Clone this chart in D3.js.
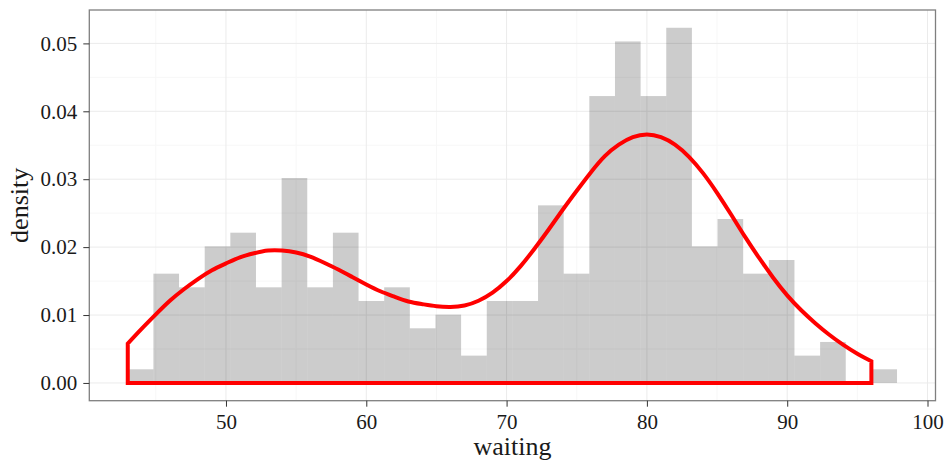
<!DOCTYPE html>
<html>
<head>
<meta charset="utf-8">
<script src="https://cdn.jsdelivr.net/npm/d3@7"></script>
<style>
  html, body { margin: 0; padding: 0; background: #fff; }
  svg text { font-family: "Liberation Serif", "Times New Roman", serif; fill: #1a1a1a; }
</style>
</head>
<body>
<script>
// histogram of waiting: 30 bins starting at 43, counts per bin
const binStart = 43
const binWidth = 1.8276
const binCounts = [1, 8, 7, 10, 11, 7, 15, 7, 11, 6, 7, 4, 5, 2, 6, 6, 13, 8, 21, 25, 21, 26, 10, 12, 8, 9, 2, 3, 0, 1]

// density curve
const densityX = [43, 44, 45, 46, 47, 48, 49, 50, 51, 52, 53, 54, 55, 56, 57, 58, 59, 60, 61, 62, 63, 64, 65, 66, 67, 68, 69, 70,
  71, 72, 73, 74, 75, 76, 77, 78, 79, 80, 81, 82, 83, 84, 85, 86, 87, 88, 89, 90, 91, 92, 93, 94, 95, 96]
const densityY = [0.0058, 0.0080, 0.0101, 0.0121, 0.0138, 0.0153, 0.0166, 0.0176, 0.0185, 0.0191, 0.0195, 0.0195, 0.0192, 0.0186,
  0.0177, 0.0167, 0.0156, 0.0145, 0.0135, 0.0127, 0.0120, 0.0116, 0.0113, 0.0112, 0.0114, 0.0121, 0.0133, 0.0150,
  0.0172, 0.0198, 0.0226, 0.0255, 0.0283, 0.0310, 0.0334, 0.0351, 0.0362, 0.0366, 0.0362, 0.0351, 0.0333, 0.0309,
  0.0280, 0.0248, 0.0215, 0.0184, 0.0155, 0.0129, 0.0107, 0.0088, 0.0071, 0.0056, 0.0043, 0.0032]

const xTicks = [50, 60, 70, 80, 90, 100]
const xMinor = [45, 55, 65, 75, 85, 95]
const yTicks = [0, 0.01, 0.02, 0.03, 0.04, 0.05]
const yMinor = [0.005, 0.015, 0.025, 0.035, 0.045]

const width = 945, height = 462
const dims = {left: 89.3, right: 935.5, top: 10, bottom: 400.7}

const total = d3.sum(binCounts)
const bins = binCounts.map((c, i) => ({
  x0: binStart + i * binWidth,
  x1: binStart + (i + 1) * binWidth,
  density: c / (total * binWidth)
}))

const svg = d3.select("body").append("svg")
  .attr("width", width)
  .attr("height", height)

// ggplot style 5% expansion
const xLo = d3.min(bins, d => d.x0), xHi = d3.max(bins, d => d.x1)
const xPad = (xHi - xLo) * 0.05
const x = d3.scaleLinear().domain([xLo - xPad, xHi + xPad]).range([dims.left, dims.right])
const yHi = d3.max(bins, d => d.density)
const y = d3.scaleLinear().domain([-yHi * 0.05, yHi * 1.05]).range([dims.bottom, dims.top])

const grid = svg.append("g")
grid.selectAll("line.xminor").data(xMinor).join("line")
  .attr("x1", d => x(d)).attr("x2", d => x(d))
  .attr("y1", dims.top).attr("y2", dims.bottom)
  .attr("stroke", "#f7f7f7").attr("stroke-width", 1)
grid.selectAll("line.yminor").data(yMinor).join("line")
  .attr("y1", d => y(d)).attr("y2", d => y(d))
  .attr("x1", dims.left).attr("x2", dims.right)
  .attr("stroke", "#f7f7f7").attr("stroke-width", 1)
grid.selectAll("line.xmajor").data(xTicks).join("line")
  .attr("x1", d => x(d)).attr("x2", d => x(d))
  .attr("y1", dims.top).attr("y2", dims.bottom)
  .attr("stroke", "#ebebeb").attr("stroke-width", 1)
grid.selectAll("line.ymajor").data(yTicks).join("line")
  .attr("y1", d => y(d)).attr("y2", d => y(d))
  .attr("x1", dims.left).attr("x2", dims.right)
  .attr("stroke", "#ebebeb").attr("stroke-width", 1)

// bars (semi-transparent like the original, so grid shows through)
svg.append("g").selectAll("rect").data(bins.filter(d => d.density > 0)).join("rect")
  .attr("x", d => x(d.x0))
  .attr("width", d => x(d.x1) - x(d.x0))
  .attr("y", d => y(d.density))
  .attr("height", d => y(0) - y(d.density))
  .attr("fill", "#000")
  .attr("fill-opacity", 0.2)

// density outline, closed down to zero at both ends
const pts = densityX.map((v, i) => [v, densityY[i]])
const curve = d3.line().x(d => x(d[0])).y(d => y(d[1])).curve(d3.curveNatural)
const first = pts[0], last = pts[pts.length - 1]
const pathD = `M${x(first[0])},${y(0)}` + curve(pts).replace(/^M/, "L") + `L${x(last[0])},${y(0)}Z`
svg.append("path")
  .attr("d", pathD)
  .attr("fill", "none")
  .attr("stroke", "#ff0000")
  .attr("stroke-width", 4)
  .attr("stroke-linejoin", "miter")

// panel border
svg.append("rect")
  .attr("x", dims.left).attr("y", dims.top)
  .attr("width", dims.right - dims.left).attr("height", dims.bottom - dims.top)
  .attr("fill", "none").attr("stroke", "#7f7f7f").attr("stroke-width", 1.3)

// axes
const xAxis = svg.append("g")
  .attr("transform", `translate(0,${dims.bottom})`)
  .call(d3.axisBottom(x).tickValues(xTicks).tickSize(6).tickPadding(7).tickFormat(d3.format("d")))
xAxis.select(".domain").remove()
xAxis.selectAll(".tick line").attr("stroke", "#333")
xAxis.selectAll(".tick text").style("font-size", "21px").attr("fill", "#1a1a1a")

const yAxis = svg.append("g")
  .attr("transform", `translate(${dims.left},0)`)
  .call(d3.axisLeft(y).tickValues(yTicks).tickSize(6).tickPadding(6).tickFormat(d3.format(".2f")))
yAxis.select(".domain").remove()
yAxis.selectAll(".tick line").attr("stroke", "#333")
yAxis.selectAll(".tick text").style("font-size", "21px").attr("fill", "#1a1a1a")

svg.append("text")
  .attr("x", (dims.left + dims.right) / 2)
  .attr("y", 455)
  .attr("text-anchor", "middle")
  .style("font-size", "26px")
  .text("waiting")

svg.append("text")
  .attr("transform", `translate(28,${(dims.top + dims.bottom) / 2}) rotate(-90)`)
  .attr("text-anchor", "middle")
  .style("font-size", "26px")
  .text("density")
</script>
</body>
</html>
